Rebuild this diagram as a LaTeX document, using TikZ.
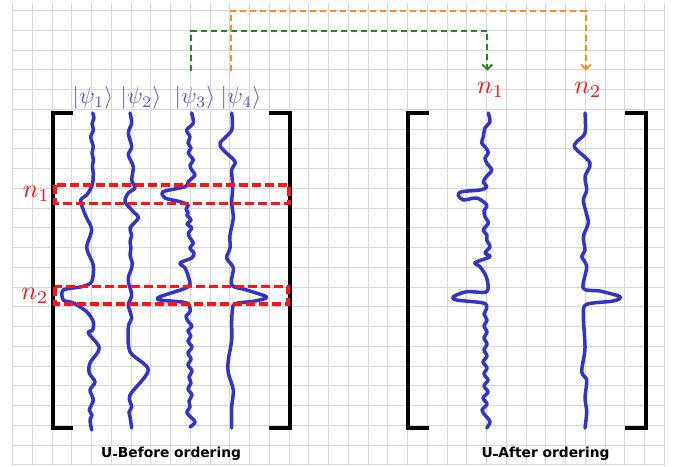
\documentclass[tikz,border=0pt]{standalone}
\usepackage{fontspec}
\newfontfamily\dvs{DejaVu Sans}
\usetikzlibrary{arrows.meta}
\definecolor{curveblue}{RGB}{51,51,204}
\definecolor{psiblue}{RGB}{85,85,221}
\definecolor{redc}{RGB}{255,20,20}
\definecolor{greenc}{RGB}{25,140,25}
\definecolor{orangec}{RGB}{255,140,26}
\definecolor{gridc}{RGB}{215,215,215}
\newcommand{\smalldash}{\kern0.6pt\rule[2pt]{4.5pt}{1.7pt}\kern0.6pt}
\tikzset{
  gridline/.style={draw=gridc, line width=1pt},
  bracket/.style={draw=black, line width=3.3pt},
  wave/.style={draw=curveblue, line width=3.5pt, line cap=round, line join=round},
  redbox/.style={draw=redc, line width=3.3pt, dash pattern=on 9pt off 4pt},
  psilab/.style={text=psiblue, scale=2.3, inner sep=0pt},
  nlab/.style={text=redc, scale=2.6, inner sep=0pt},
  title/.style={font=\dvs\bfseries\fontsize{13.8}{15}\selectfont, inner sep=0pt},
  linkarrow/.style={line width=1.8pt, dash pattern=on 6pt off 4pt, -{Straight Barb[length=5pt,width=10pt]}},
}
\begin{document}
\begin{tikzpicture}[x=1pt,y=-1pt]
\useasboundingbox (0,0) rectangle (679,466);
% grid
\foreach \i in {0,...,33} \draw[gridline] ({12.7+\i*19.75},3) -- ({12.7+\i*19.75},466);
\foreach \j in {0,...,23} \draw[gridline] (12.7,{10.7+\j*19.75}) -- (664.5,{10.7+\j*19.75});
% brackets
\draw[bracket] (73,113) -- (53,113) -- (53,428) -- (73,428);
\draw[bracket] (269,113) -- (290,113) -- (290,428) -- (269,428);
\draw[bracket] (429,113) -- (408,113) -- (408,428) -- (429,428);
\draw[bracket] (625,113) -- (646,113) -- (646,428) -- (625,428);
% waves left
\draw[wave] plot[smooth, tension=0.5] coordinates {(92.7,113) (94,118) (92,124) (93.5,130) (90.7,136.7) (93.3,146.7) (92,153) (93.5,160) (92.3,166) (93.3,173) (92.3,185) (86.7,195) (80.7,200) (83.3,210) (86.7,218) (91.7,230) (86.7,248) (93.3,265) (91.7,281.7) (81.7,286.7) (63.3,290) (63.3,300) (73.3,303) (86.7,311.7) (93.3,321.7) (92.7,330) (88.3,333) (99.3,348) (90,363) (89.3,373) (95,382) (90,390) (93.3,400) (89.3,410) (92,415) (90,420) (91.7,430)};
\draw[wave] plot[smooth, tension=0.5] coordinates {(130,113) (131.7,123) (128.3,133) (131.7,146.7) (128.3,155) (133.3,166.7) (131.7,180) (135,188) (128.3,193) (125,201.7) (133.3,211.7) (138.3,218) (130,228) (131.7,235) (130,241.7) (131,248) (130,255) (132,262) (131.7,268) (129,275) (128.3,281.7) (131.7,295) (128.3,305) (131.7,318) (128.3,327) (130,351.7) (148.3,370) (130,395) (131.7,406.7) (129,412) (130,416.7) (131.7,428)};
\draw[wave] plot[smooth, tension=0.5] coordinates {(191.7,113) (193.3,123) (186.7,130) (190,137) (188,143) (191,148) (188.3,153) (193.3,160) (190,165) (191.7,170) (195,175) (188.3,181.7) (185,186.7) (163.3,191.7) (165,198) (180,201.7) (188.3,205) (186,209) (188.3,213) (186.7,215) (191,220) (187,224) (191.7,228) (188.3,233) (190,238) (193.3,243) (190,248) (194,253) (191.7,258) (180,263) (185,268) (188.3,276.7) (188.3,286.7) (160,296.7) (160,300) (186.7,303) (190,311.7) (186,316) (188.3,321.7) (192,326) (188,331) (191,336) (188,341) (192,347) (188,353) (191,359) (188,365) (192,371) (189,377) (191,383) (188,389) (192,395) (189,401) (190,407) (187,413) (195,421.7) (190,427)};
\draw[wave] plot[smooth, tension=0.5] coordinates {(231.7,113) (231.7,130) (220,143) (223.3,150) (235,161.7) (231.7,170) (232.7,186.7) (231.7,203) (233.3,218) (230,235) (230,248) (226.7,258) (233.3,268) (231.7,285) (246.7,290) (266.7,297) (255,301) (238,303) (233,306) (231.7,321.7) (231.7,340) (228.3,360) (228.3,373) (233.3,390) (231.7,406.7) (231.7,428)};
% waves right
\draw[wave] plot[smooth, tension=0.5] coordinates {(488.3,113) (490,121.7) (485,128) (483.3,136.7) (481.7,143) (486,148) (488.3,153) (485,158) (486.7,163) (491.7,170) (487,176) (483.3,181.7) (486.7,187) (480,190) (461.7,191.7) (458.3,195) (463.3,200) (476.7,198) (486.7,205) (484,211) (485,216.7) (488.3,223) (483.3,230) (487,235) (486.7,240) (490,246.7) (485,253) (490,256.7) (475,262.7) (480,266.7) (486.7,278) (486.7,291.7) (466.7,291.7) (453.3,296.7) (456.7,300) (483.3,303) (486.7,308) (484,314) (487,320) (484,326) (487,332) (484,338) (487,344) (484,350) (487,356) (483,362) (487,368) (484,374) (488,380) (484,386) (488,392) (483,398) (487,404) (482,410) (485,415) (490,421.7) (486.7,428)};
\draw[wave] plot[smooth, tension=0.5] coordinates {(585,113) (585,133) (576.7,141.7) (575,148) (590,163) (585,176.7) (586.7,190) (583.3,200) (586,212) (588.3,223) (583.3,236.7) (585,250) (581.7,256.7) (586.7,266.7) (583.3,288.3) (600,291) (620,296.7) (613.3,301) (586.7,304.3) (583.3,315) (585,348) (581.7,371.7) (586.7,380) (585,398) (586.7,411.7) (585,428)};
% red boxes
\draw[redbox] (55,185) rectangle (289,203.3);
\draw[redbox] (55,286.7) rectangle (288,304);
% labels
\node[psilab] (psi1) at (93,98) {$|\psi_1\rangle$};
\node[psilab] (psi2) at (141,98) {$|\psi_2\rangle$};
\node[psilab] (psi3) at (195,98) {$|\psi_3\rangle$};
\node[psilab] (psi4) at (241,98) {$|\psi_4\rangle$};
\node[nlab] (n1L) at (36.5,194) {$n_1$};
\node[nlab] (n2L) at (35,296) {$n_2$};
\node[nlab] (n1R) at (490.7,89.5) {$n_1$};
\node[nlab] (n2R) at (588,89.5) {$n_2$};
\node[title] (tb) at (171,454) {U\smalldash Before ordering};
\node[title] (ta) at (545.5,454) {U\smalldash After ordering};
% dashed links
\coordinate (gs) at (191,71);
\coordinate (os) at (230.7,71);
\coordinate (ge) at (487.3,70.7);
\coordinate (oe) at (586,70.7);
\draw[linkarrow, draw=greenc] (gs) -- (191,30.7) -- (487.3,30.7) -- (ge);
\draw[linkarrow, draw=orangec] (os) -- (230.7,10.7) -- (586,10.7) -- (oe);
\end{tikzpicture}
\end{document}
